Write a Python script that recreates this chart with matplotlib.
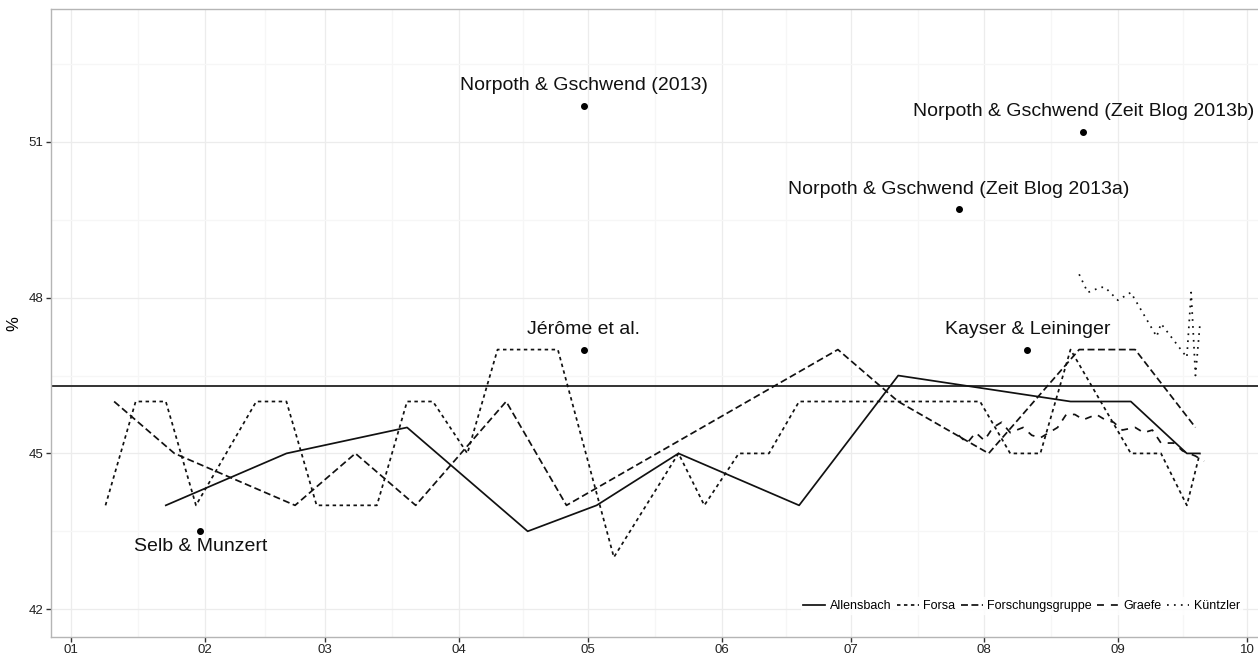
import numpy as np
import matplotlib
matplotlib.use("Agg")
import matplotlib.pyplot as plt
import matplotlib.dates as mdates

# Umfragewerte (Schwarz-Gelb, %)
allensbach_dates = ["2013-01-23", "2013-02-20", "2013-03-20", "2013-04-17", "2013-05-03",
                    "2013-05-22", "2013-06-19", "2013-07-12", "2013-08-21", "2013-09-04",
                    "2013-09-17", "2013-09-20"]
allensbach_vals = [44, 45, 45.5, 43.5, 44, 45, 44, 46.5, 46, 46, 45, 45]

forsa_dates = ["2013-01-09", "2013-01-16", "2013-01-23", "2013-01-30", "2013-02-13",
               "2013-02-20", "2013-02-27", "2013-03-13", "2013-03-20", "2013-03-26",
               "2013-04-03", "2013-04-10", "2013-04-24", "2013-05-07", "2013-05-22",
               "2013-05-28", "2013-06-05", "2013-06-12", "2013-06-19", "2013-07-31",
               "2013-08-07", "2013-08-14", "2013-08-21", "2013-09-04", "2013-09-11",
               "2013-09-17", "2013-09-20"]
forsa_vals = [44, 46, 46, 44, 46, 46, 44, 44, 46, 46, 45, 47, 47, 43, 45, 44, 45, 45, 46,
              46, 45, 45, 47, 45, 45, 44, 45]

fgw_dates = ["2013-01-11", "2013-01-25", "2013-02-22", "2013-03-08", "2013-03-22",
             "2013-04-12", "2013-04-26", "2013-06-28", "2013-07-12", "2013-08-02",
             "2013-08-23", "2013-09-05", "2013-09-19"]
fgw_vals = [46, 45, 44, 45, 44, 46, 44, 47, 46, 45, 47, 47, 45.5]

graefe_dates = ["2013-07-26", "2013-07-28", "2013-07-30", "2013-08-01", "2013-08-03",
                "2013-08-05", "2013-08-07", "2013-08-10", "2013-08-12", "2013-08-14",
                "2013-08-16", "2013-08-18", "2013-08-20", "2013-08-22", "2013-08-24",
                "2013-08-27", "2013-08-29", "2013-08-31", "2013-09-02", "2013-09-05",
                "2013-09-07", "2013-09-09", "2013-09-11", "2013-09-14", "2013-09-16",
                "2013-09-19", "2013-09-21"]
graefe_vals = [45.35, 45.2, 45.4, 45.25, 45.5, 45.6, 45.4, 45.5, 45.35, 45.3, 45.4, 45.5,
               45.75, 45.75, 45.65, 45.75, 45.65, 45.6, 45.45, 45.5, 45.4, 45.45, 45.2,
               45.2, 45.05, 44.95, 44.85]

kuentzler_dates = ["2013-08-23", "2013-08-25", "2013-08-28", "2013-08-29", "2013-09-01",
                   "2013-09-04", "2013-09-10", "2013-09-11", "2013-09-17", "2013-09-18",
                   "2013-09-19", "2013-09-20"]
kuentzler_vals = [48.45, 48.1, 48.2, 48.2, 47.95, 48.1, 47.25, 47.5, 46.85, 48.1, 46.5, 47.45]

# Prognosemodelle
model_names = ["Selb & Munzert", "Norpoth & Gschwend (2013)", "Jérôme et al.",
               "Norpoth & Gschwend (Zeit Blog 2013a)", "Kayser & Leininger",
               "Norpoth & Gschwend (Zeit Blog 2013b)"]
model_dates = ["2013-01-31", "2013-04-30", "2013-04-30", "2013-07-26", "2013-08-11",
               "2013-08-24"]
model_vals = [43.5, 51.7, 47.0, 49.7, 47.0, 51.2]

result = 46.3


def main():
    fig = plt.figure(figsize=(12.58, 6.6), dpi=100)
    ax = fig.add_axes([50.7 / 1258, 1 - 636.7 / 660, 1 - 50.7 / 1258 + 0.002,
                       (636.7 - 9.5) / 660])

    series = [
        ("Allensbach", allensbach_dates, allensbach_vals, "solid"),
        ("Forsa", forsa_dates, forsa_vals, (0, (2, 2))),
        ("Forschungsgruppe", fgw_dates, fgw_vals, (0, (4, 2))),
        ("Graefe", graefe_dates, graefe_vals, (0, (4, 4))),
        ("Küntzler", kuentzler_dates, kuentzler_vals, (0, (1, 3))),
    ]
    for name, d, v, ls in series:
        ax.plot(np.array(d, dtype="datetime64[D]"), v, color="#111111", lw=1.25,
                linestyle=ls, label=name)

    ax.axhline(result, color="#333333", lw=1.4, zorder=1)

    md = np.array(model_dates, dtype="datetime64[D]")
    ax.plot(md, model_vals, "o", color="black", ms=4, zorder=3)
    for name, d, v in zip(model_names, md, model_vals):
        dy = -11 if name.startswith("Selb") else 14.5
        ax.annotate(name, (d, v), xytext=(0, dy), textcoords="offset points",
                    ha="center", va="center", fontsize=14, color="#111111")

    # Achsen
    ax.set_xlim(np.datetime64("2012-12-27T06:43"), np.datetime64("2013-10-04T02:24"))
    ax.set_ylim(41.47, 53.55)
    majors = np.array([f"2013-{m:02d}-01" for m in range(1, 11)], dtype="datetime64[h]")
    minors = majors[:-1] + (majors[1:] - majors[:-1]) / 2
    ax.set_xticks(majors)
    ax.set_xticks(minors, minor=True)
    ax.xaxis.set_major_formatter(mdates.DateFormatter("%m"))
    ax.set_yticks([42, 45, 48, 51])
    ax.set_yticks([43.5, 46.5, 49.5, 52.5], minor=True)

    ax.grid(which="major", color="#ececec", lw=0.9)
    ax.grid(which="minor", color="#f6f6f6", lw=0.9)
    ax.set_axisbelow(True)
    ax.tick_params(which="major", length=3.5, width=1, color="#333333",
                   labelsize=9.5, labelcolor="#222222", pad=2)
    ax.tick_params(which="minor", length=0)
    for sp in ax.spines.values():
        sp.set_color("#b5b5b5")
        sp.set_linewidth(1)
    ax.set_ylabel("%", fontsize=12, labelpad=5)

    leg = ax.legend(loc="center right", bbox_to_anchor=(0.99, 0.049), ncol=5,
                    fontsize=9, handlelength=1.75, handletextpad=0.35,
                    columnspacing=0.45, frameon=True, fancybox=False,
                    borderpad=0.2)
    leg.get_frame().set_facecolor("white")
    leg.get_frame().set_edgecolor("white")

    fig.savefig("out.png", dpi=100)


if __name__ == "__main__":
    plt.rcParams["font.family"] = ["Liberation Sans", "DejaVu Sans"]
    main()
